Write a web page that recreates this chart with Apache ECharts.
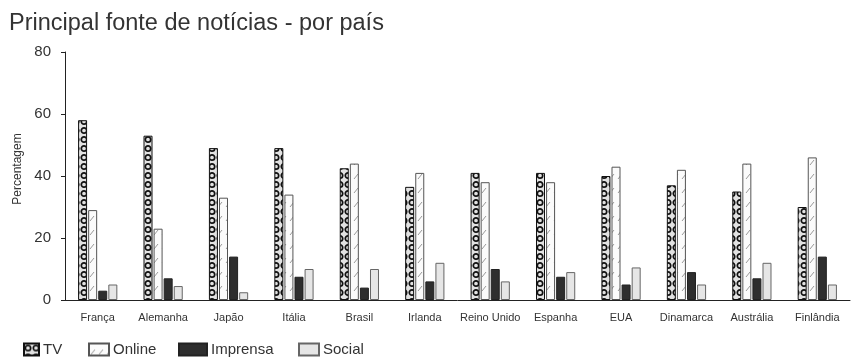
<!DOCTYPE html>
<html>
<head>
<meta charset="utf-8">
<script src="https://cdn.jsdelivr.net/npm/echarts@6/dist/echarts.min.js"></script>
<style>html,body{margin:0;padding:0;background:#fff}#c{width:859px;height:361px}</style>
</head>
<body>
<div id="c"></div>
<script>
var categories = ['França','Alemanha','Japão','Itália','Brasil','Irlanda','Reino Unido','Espanha','EUA','Dinamarca','Austrália','Finlândia'];
var tv       = [58, 53, 49, 49, 42.5, 36.5, 41, 41, 40, 37, 35, 30];
var online   = [29, 23, 33, 34, 44, 41, 38, 38, 43, 42, 44, 46];
var imprensa = [3, 7, 14, 7.5, 4, 6, 10, 7.5, 5, 9, 7, 14];
var social   = [5, 4.5, 2.5, 10, 10, 12, 6, 9, 10.5, 5, 12, 5];
var yTicks = [0, 20, 40, 60, 80];

function tvPattern() {
  var c = document.createElement('canvas'); c.width = 8; c.height = 9;
  var g = c.getContext('2d');
  g.fillStyle = '#e2e2e2'; g.fillRect(0,0,8,9);
  g.strokeStyle = '#111'; g.lineWidth = 1.7;
  g.beginPath(); g.arc(4,4.5,2.7,0,Math.PI*2); g.stroke();
  return {image: c, repeat: 'repeat'};
}
function onlinePattern() {
  var c = document.createElement('canvas'); c.width = 8; c.height = 14;
  var g = c.getContext('2d');
  g.fillStyle = '#fbfbfb'; g.fillRect(0,0,8,14);
  g.strokeStyle = '#9a9a9a'; g.lineWidth = 1;
  g.beginPath(); g.moveTo(2,11); g.lineTo(6,6); g.stroke();
  return {image: c, repeat: 'repeat'};
}

var chart = echarts.init(document.getElementById('c'), null, {renderer: 'canvas'});
var txt = '#333';
var ff = 'Liberation Sans, Arial, sans-serif';
function legendAt(name, left, w) {
  return {data: [name], left: left, top: 342, padding: 0, itemWidth: w, itemHeight: 12, icon: 'rect',
    textStyle: {fontSize: 15, color: txt, fontFamily: ff, padding: [0,0,0,-1]}, selectedMode: false};
}
chart.setOption({
  animation: false,
  title: {text: 'Principal fonte de notícias - por país', left: 4, top: 7,
    textStyle: {fontSize: 23.5, fontWeight: 'normal', color: txt, fontFamily: ff}},
  legend: [legendAt('TV', 23, 15), legendAt('Online', 88, 20), legendAt('Imprensa', 178, 28), legendAt('Social', 298, 20)],
  grid: {left: 65, right: 9, top: 52, bottom: 61},
  xAxis: {type: 'category', data: categories,
    axisLine: {lineStyle: {color: '#222', width: 1}},
    axisTick: {length: 4, lineStyle: {color: '#222'}},
    axisLabel: {fontSize: 11, color: txt, margin: 12, interval: 0, fontFamily: ff}},
  yAxis: {type: 'value', min: yTicks[0], max: yTicks[yTicks.length-1], interval: 20,
    name: 'Percentagem', nameLocation: 'middle', nameGap: 33,
    nameTextStyle: {fontSize: 12, color: txt, fontFamily: ff, padding: [0,0,0,14]},
    axisLine: {show: true, lineStyle: {color: '#222'}},
    axisTick: {show: true, length: 4, lineStyle: {color: '#222'}},
    splitLine: {show: false},
    axisLabel: {fontSize: 15, color: txt, margin: 14, fontFamily: ff}},
  series: [
    {name: 'TV', type: 'bar', data: tv, barWidth: 9, barGap: '12%',
      itemStyle: {color: tvPattern(), borderColor: '#111', borderWidth: 1}},
    {name: 'Online', type: 'bar', data: online, barWidth: 9,
      itemStyle: {color: onlinePattern(), borderColor: '#555', borderWidth: 1}},
    {name: 'Imprensa', type: 'bar', data: imprensa, barWidth: 9,
      itemStyle: {color: '#2e2e2e', borderColor: '#222', borderWidth: 1}},
    {name: 'Social', type: 'bar', data: social, barWidth: 9,
      itemStyle: {color: '#e6e6e6', borderColor: '#666', borderWidth: 1}}
  ]
});
</script>
</body>
</html>
